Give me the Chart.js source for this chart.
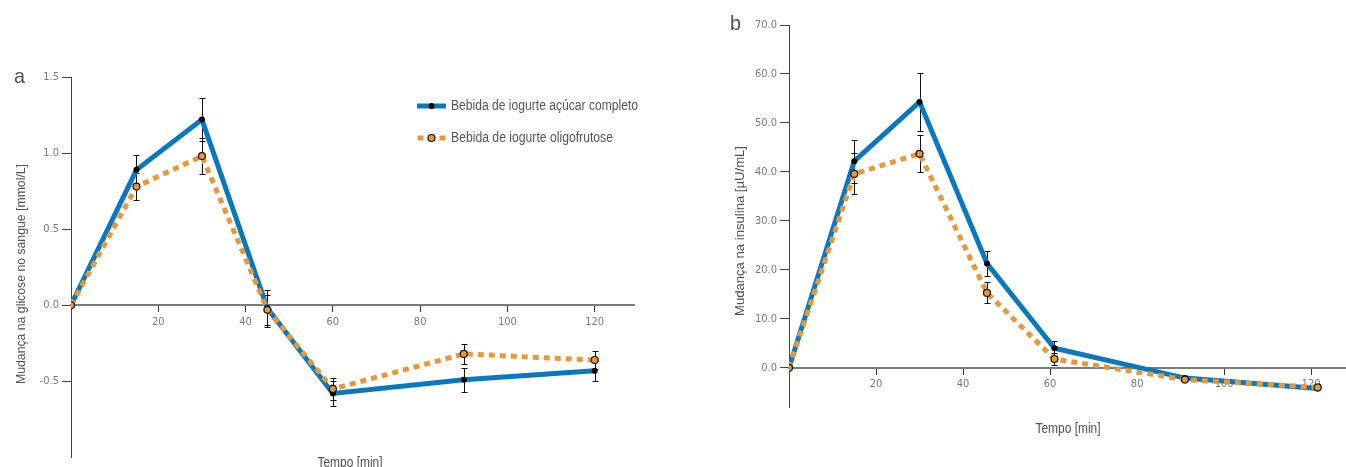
<!DOCTYPE html>
<html>
<head>
<meta charset="utf-8">
<script src="https://cdn.jsdelivr.net/npm/chart.js@4.4.1/dist/chart.umd.min.js"></script>
<style>
    html, body { margin: 0; padding: 0; background: #fff; }
    .wrap { position: absolute; top: 0; width: 673px; height: 467px; }
</style>
</head>
<body>
<div class="wrap" style="left:0"><canvas id="chartA"></canvas></div>
<div class="wrap" style="left:673px"><canvas id="chartB"></canvas></div>
<script>
// glucose panel (a)
const minutesA = [0, 15, 30, 45, 60, 90, 120];
const glucoseFull = [0, 0.89, 1.22, -0.02, -0.58, -0.49, -0.43];
const glucoseFullErr = [0, 0.10, 0.14, 0.12, 0.08, 0.08, 0.065];
const glucoseOligo = [0, 0.78, 0.98, -0.03, -0.55, -0.32, -0.36];
const glucoseOligoErr = [0, 0.09, 0.12, 0.10, 0.07, 0.066, 0.06];

// insulin panel (b)
const minutesB = [0, 15, 30, 45.5, 61, 91, 121.5];
const insulinFull = [0, 42.2, 54.3, 21.3, 4.0, -2.1, -4.2];
const insulinFullErr = [0, 4.4, 6.0, 2.6, 1.5, 0, 0];
const insulinOligo = [0, 39.6, 43.7, 15.3, 1.8, -2.4, -4.0];
const insulinOligoErr = [0, 4.2, 3.8, 2.15, 1.2, 0, 0];

const seriesNames = ['Bebida de iogurte açúcar completo', 'Bebida de iogurte oligofrutose'];

const TICK_FONT = "'DejaVu Sans Condensed', 'Liberation Sans', sans-serif";
const TEXT_FONT = "'Liberation Sans', Arial, sans-serif";
const BLUE = '#0a78be';
const ORANGE = '#e5993a';

const toPoints = (xs, ys) => xs.map((x, i) => ({ x, y: ys[i] }));

// condensed-looking text: draw with Liberation Sans squeezed to a given width
const fitText = (ctx, text, x, y, size, width, align, weight) => {
    ctx.font = `${weight || 'normal'} ${size}px ${TEXT_FONT}`;
    const k = width / ctx.measureText(text).width;
    ctx.save();
    ctx.translate(x, y);
    ctx.scale(k, 1);
    ctx.textAlign = align;
    ctx.fillText(text, 0, 0);
    ctx.restore();
};

const errorBars = {
    id: 'errorBars',
    beforeDatasetsDraw(chart) {
        const { ctx, scales: { x, y } } = chart;
        ctx.save();
        ctx.strokeStyle = '#111';
        ctx.lineWidth = 1;
        chart.data.datasets.forEach((ds) => {
            (ds.errors || []).forEach((e, i) => {
                if (!e) return;
                const p = ds.data[i];
                const px = Math.round(x.getPixelForValue(p.x)) + 0.5;
                const top = Math.round(y.getPixelForValue(p.y + e)) + 0.5;
                const bot = Math.round(y.getPixelForValue(p.y - e)) + 0.5;
                ctx.beginPath();
                ctx.moveTo(px, top); ctx.lineTo(px, bot);
                ctx.moveTo(px - 3, top); ctx.lineTo(px + 3, top);
                ctx.moveTo(px - 3, bot); ctx.lineTo(px + 3, bot);
                ctx.stroke();
            });
        });
        ctx.restore();
    }
};

const decorations = {
    id: 'decorations',
    afterDraw(chart, args, o) {
        const { ctx } = chart;
        ctx.save();
        ctx.fillStyle = '#505050';
        ctx.textBaseline = 'middle';
        fitText(ctx, o.letter, o.letterX, o.letterY, 21, 11, 'left');

        fitText(ctx, o.xTitle, o.xTitleX, o.xTitleY, 14, 65, 'center');

        ctx.save();
        ctx.translate(o.yTitleX, o.yTitleY);
        ctx.rotate(-Math.PI / 2);
        fitText(ctx, o.yTitle, 0, 0, 13.5, o.yTitleW, 'center');
        ctx.restore();
        ctx.restore();

        if (!o.legend) return;
        ctx.save();
        chart.data.datasets.slice().sort((p, q) => q.order - p.order).forEach((ds, i) => {
            const yy = o.legend.y + i * o.legend.gap;
            const x0 = o.legend.x;
            const x1 = x0 + 29;
            ctx.strokeStyle = ds.borderColor;
            ctx.lineWidth = ds.borderWidth;
            ctx.setLineDash(ds.borderDash || []);
            ctx.lineDashOffset = ds.borderDash ? -0.5 : 0;
            ctx.beginPath();
            ctx.moveTo(x0, yy); ctx.lineTo(x1, yy);
            ctx.stroke();
            ctx.setLineDash([]);
            ctx.beginPath();
            ctx.arc((x0 + x1) / 2, yy, ds.pointRadius, 0, Math.PI * 2);
            ctx.fillStyle = ds.pointBackgroundColor;
            ctx.fill();
            if (ds.pointBorderWidth) {
                ctx.lineWidth = ds.pointBorderWidth;
                ctx.strokeStyle = ds.pointBorderColor;
                ctx.stroke();
            }
            ctx.fillStyle = '#555';
            ctx.textBaseline = 'middle';
            fitText(ctx, ds.label, x1 + 5, yy, 14, o.legend.widths[i], 'left');
        });
        ctx.restore();
    }
};

const makeDatasets = (xs, full, fullErr, oligo, oligoErr) => [
    {
        label: seriesNames[0],
        data: toPoints(xs, full),
        errors: fullErr,
        borderColor: BLUE,
        borderWidth: 5,
        pointRadius: 3,
        pointBackgroundColor: '#000',
        pointBorderColor: '#000',
        pointBorderWidth: 0,
        tension: 0,
        order: 2
    },
    {
        label: seriesNames[1],
        data: toPoints(xs, oligo),
        errors: oligoErr,
        borderColor: ORANGE,
        borderWidth: 5,
        borderDash: [6, 5],
        borderCapStyle: 'butt',
        pointRadius: 3.5,
        pointBackgroundColor: ORANGE,
        pointBorderColor: '#111',
        pointBorderWidth: 1.2,
        tension: 0,
        order: 1
    }
];

const makeScales = (yMin, yMax, yStep, yLowest, xMax, axisWidth) => ({
    x: {
        type: 'linear',
        min: 0,
        max: xMax,
        position: { y: 0 },
        afterFit: (s) => { s.height = 0; },
        afterBuildTicks: (s) => { s.ticks = s.ticks.filter((t) => t.value > 0 && t.value % 20 === 0); },
        border: { display: true, color: '#7a7a7a', width: 2 },
        grid: { drawOnChartArea: false, drawTicks: true, tickLength: 6, tickColor: '#333', tickWidth: 1 },
        ticks: { autoSkip: false, padding: 4, color: '#777', font: { family: TICK_FONT, size: 11 } }
    },
    y: {
        type: 'linear',
        min: yMin,
        max: yMax,
        afterFit: (s) => { s.width = axisWidth; },
        afterBuildTicks: (s) => {
            s.ticks = [];
            for (let v = yMax; v >= yLowest - 1e-9; v -= yStep) s.ticks.push({ value: +v.toFixed(4) });
            s.ticks.reverse();
        },
        border: { display: true, color: '#444', width: 1 },
        grid: { drawOnChartArea: false, drawTicks: true, tickLength: 9, tickColor: '#444', tickWidth: 1 },
        ticks: {
            autoSkip: false,
            padding: 3,
            color: '#777',
            font: { family: TICK_FONT, size: 11 },
            callback: (v) => Number(v).toFixed(1)
        }
    }
});

new Chart(document.getElementById('chartA'), {
    type: 'line',
    data: { datasets: makeDatasets(minutesA, glucoseFull, glucoseFullErr, glucoseOligo, glucoseOligoErr) },
    options: {
        animation: false,
        responsive: true,
        maintainAspectRatio: false,
        layout: { autoPadding: false, padding: { left: 0, top: 77, right: 39, bottom: 9 } },
        scales: makeScales(-1.0, 1.5, 0.5, -0.5, 129, 71),
        plugins: {
            legend: { display: false },
            tooltip: { enabled: false },
            decorations: {
                letter: 'a', letterX: 14, letterY: 77,
                xTitle: 'Tempo [min]', xTitleX: 350, xTitleY: 463,
                yTitle: 'Mudança na glicose no sangue [mmol/L]', yTitleX: 21, yTitleY: 274, yTitleW: 220,
                legend: { x: 417, y: 106, gap: 32, widths: [187, 162] }
            }
        }
    },
    plugins: [errorBars, decorations]
});

new Chart(document.getElementById('chartB'), {
    type: 'line',
    data: { datasets: makeDatasets(minutesB, insulinFull, insulinFullErr, insulinOligo, insulinOligoErr) },
    options: {
        animation: false,
        responsive: true,
        maintainAspectRatio: false,
        layout: { autoPadding: false, padding: { left: 0, top: 25, right: 0, bottom: 60 } },
        scales: makeScales(-8, 70, 10, 0, 128, 116),
        plugins: {
            legend: { display: false },
            tooltip: { enabled: false },
            decorations: {
                letter: 'b', letterX: 57, letterY: 24,
                xTitle: 'Tempo [min]', xTitleX: 395, xTitleY: 429,
                yTitle: 'Mudança na insulina [µU/mL]', yTitleX: 67, yTitleY: 231, yTitleW: 170
            }
        }
    },
    plugins: [errorBars, decorations]
});
</script>
</body>
</html>
